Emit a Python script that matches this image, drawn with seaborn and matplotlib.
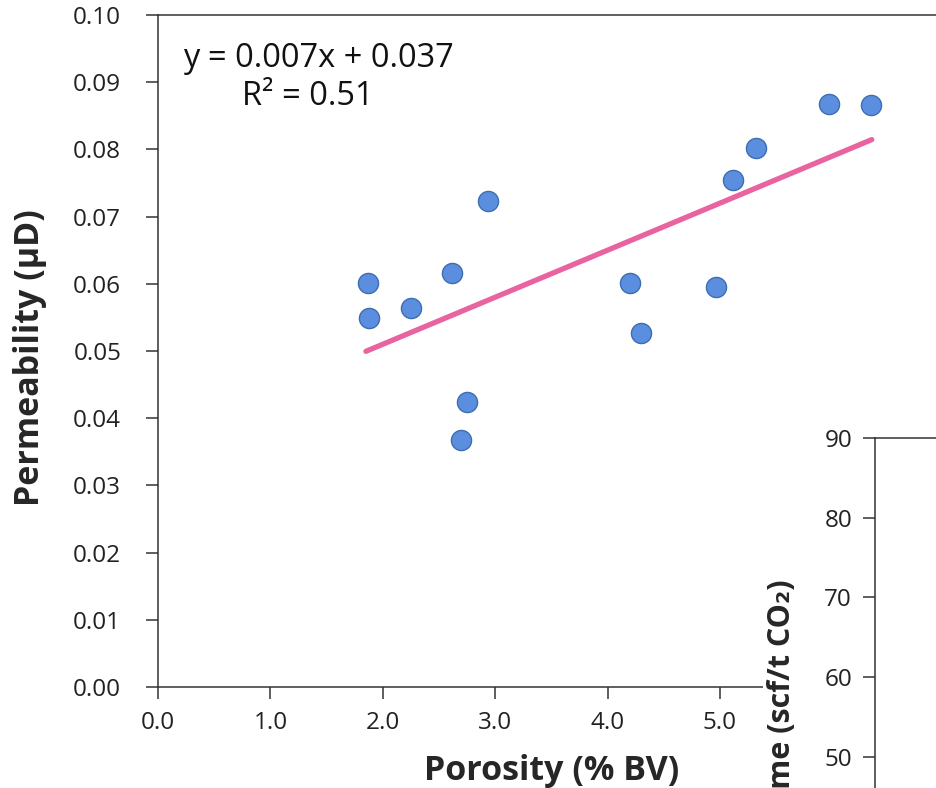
import numpy as np
import pandas as pd
import seaborn as sns
import matplotlib.pyplot as plt
from matplotlib.patches import Rectangle

# porosity vs permeability samples
porosity = [1.87, 1.88, 2.25, 2.62, 2.94, 2.75, 2.70, 4.20, 4.30, 4.96, 5.12, 5.32, 5.97, 6.34]
permeability = [0.0601, 0.0549, 0.0564, 0.0616, 0.0723, 0.0424, 0.0368,
                0.0601, 0.0527, 0.0595, 0.0754, 0.0802, 0.0868, 0.0866]

# trendline as reported on the chart
slope = 0.007
intercept = 0.037
r2 = 0.51

x_ticks = [0.0, 1.0, 2.0, 3.0, 4.0, 5.0]
y_ticks = [0.00, 0.01, 0.02, 0.03, 0.04, 0.05, 0.06, 0.07, 0.08, 0.09, 0.10]
y2_ticks = [50, 60, 70, 80, 90]

df = pd.DataFrame({"porosity": porosity, "permeability": permeability})
fit_x = np.array([min(porosity) - 0.02, max(porosity) + 0.01])
fit = pd.DataFrame({"x": fit_x, "y": slope * fit_x + intercept})

sns.set_style("white")
plt.rcParams["font.family"] = ["Open Sans", "DejaVu Sans"]
spine_col = "#333333"
tick_size = 17.5

fig = plt.figure(figsize=(9.36, 7.88), dpi=100)
fig.patch.set_facecolor("white")

# main chart
ax = fig.add_axes([0.1688, 0.1282, 0.8406, 0.8528])
ax.set_zorder(0)
sns.lineplot(data=fit, x="x", y="y", color="#e8639f", linewidth=3.8, ax=ax,
             solid_capstyle="round")
sns.scatterplot(data=df, x="porosity", y="permeability", s=210, color="#5b8ede",
                edgecolor="#3d6db3", linewidth=1.0, ax=ax, zorder=3)
ax.set_xlim(0, 7)
ax.set_ylim(0, 0.10)
ax.set_xticks(x_ticks)
ax.set_xticklabels([f"{v:.1f}" for v in x_ticks])
ax.set_yticks(y_ticks)
ax.set_yticklabels([f"{v:.2f}" for v in y_ticks])
ax.tick_params(axis="both", direction="out", length=8.5, width=1.1, color=spine_col,
               labelsize=tick_size, labelcolor="#222222")
ax.tick_params(axis="y", pad=18)
ax.tick_params(axis="x", pad=9)
ax.tick_params(left=True, bottom=True)
for side in ["left", "bottom", "top"]:
    ax.spines[side].set_color(spine_col)
    ax.spines[side].set_linewidth(1.1)
ax.spines["right"].set_visible(False)
ax.set_xlabel("Porosity (% BV)", fontsize=24.5, fontweight="bold")
ax.set_ylabel("Permeability (µD)", fontsize=24.5, fontweight="bold")
ax.xaxis.set_label_coords(0.5, -0.10)
ax.yaxis.set_label_coords(-0.141, 0.49)

ax.text(0.0318, 0.9226, f"y = {slope:.3f}x + {intercept:.3f}", transform=ax.transAxes,
        fontsize=23.5, va="baseline", ha="left", color="#111111")
ax.text(0.1068, 0.866, f"R² = {r2:.2f}", transform=ax.transAxes,
        fontsize=23.5, va="baseline", ha="left", color="#111111")

# white panel of the overlapping second chart
fig.add_artist(Rectangle((763 / 936, -0.1), 0.4, 1 - 425 / 788 + 0.1,
                         transform=fig.transFigure, facecolor="white",
                         edgecolor="none", zorder=1))

ax2 = fig.add_axes([0.9348, -0.062, 0.3, 0.5064])
ax2.set_zorder(2)
ax2.set_facecolor("white")
ax2.set_ylim(40, 90)
ax2.set_xlim(0, 1)
ax2.set_yticks(y2_ticks)
ax2.set_xticks([])
ax2.tick_params(axis="y", direction="out", length=8.5, width=1.1, color=spine_col,
                labelsize=tick_size, labelcolor="#222222", pad=8, left=True)
for side in ["left", "top"]:
    ax2.spines[side].set_color(spine_col)
    ax2.spines[side].set_linewidth(1.1)
ax2.spines["right"].set_visible(False)
ax2.spines["bottom"].set_visible(False)

fig.text(782 / 936, 1 - 579 / 788, "Langmuir Volume (scf/t CO₂)", rotation=90,
         va="top", ha="center", fontsize=22, fontweight="bold", zorder=5)

plt.savefig("out.png", dpi=100)
plt.close()
